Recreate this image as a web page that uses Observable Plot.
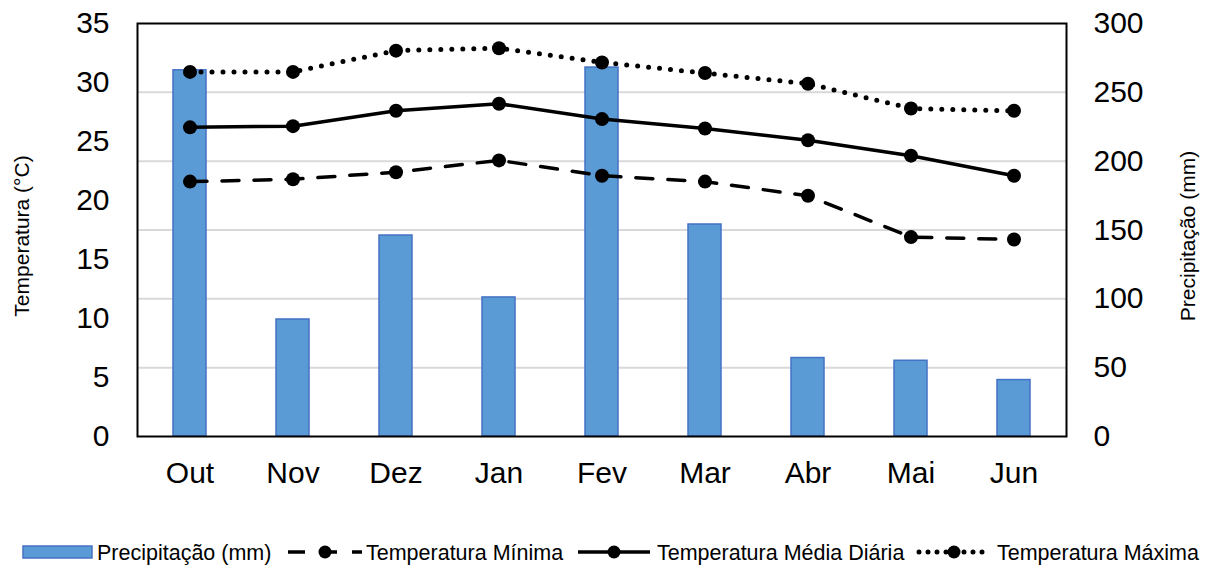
<!DOCTYPE html>
<html>
<head>
<meta charset="utf-8">
<script src="https://cdn.jsdelivr.net/npm/d3@7"></script>
<script src="https://cdn.jsdelivr.net/npm/@observablehq/plot@0.6"></script>
<style>
  html, body { margin: 0; padding: 0; background: white; }
  #chart svg { display: block; }
</style>
</head>
<body>
<div id="chart"></div>
<script>
// ---- data ----
const months = ["Out", "Nov", "Dez", "Jan", "Fev", "Mar", "Abr", "Mai", "Jun"];
const precip = [266, 85, 146, 101, 268, 154, 57, 55, 41];          // mm
const tMin   = [21.6, 21.8, 22.4, 23.4, 22.1, 21.6, 20.4, 16.9, 16.7]; // °C
const tMean  = [26.2, 26.3, 27.6, 28.2, 26.9, 26.1, 25.1, 23.8, 22.1];
const tMax   = [30.9, 30.9, 32.7, 32.9, 31.7, 30.8, 29.9, 27.8, 27.6];
const tempTicks = [0, 5, 10, 15, 20, 25, 30, 35];
const precipTicks = [0, 50, 100, 150, 200, 250, 300];
const seriesNames = ["Precipitação (mm)", "Temperatura Mínima", "Temperatura Média Diária", "Temperatura Máxima"];

const TMAX = 35, PMAX = 300;
const toT = mm => mm * TMAX / PMAX;

const bars = months.map((m, i) => ({month: m, mm: precip[i]}));
const rows = (arr) => months.map((m, i) => ({month: m, t: arr[i]}));

const font = "'Liberation Sans', Arial, Helvetica, sans-serif";
const W = 1211, H = 500;

const plot = Plot.plot({
  width: W,
  height: H,
  marginLeft: 137,
  marginRight: 145,
  marginTop: 23,
  marginBottom: 64,
  style: {fontFamily: font, fontSize: "30px", color: "black", background: "white"},
  x: {type: "band", domain: months, padding: 0, axis: null},
  y: {domain: [0, TMAX], axis: null},
  marks: [
    Plot.ruleY(precipTicks.slice(1, -1).map(toT), {stroke: "#d9d9d9", strokeWidth: 2}),
    Plot.barY(bars, {x: "month", y: d => toT(d.mm), fill: "#5b9bd5", stroke: "#4472c4", strokeWidth: 1.5, insetLeft: 35, insetRight: 35}),
    Plot.line(rows(tMin), {x: "month", y: "t", stroke: "black", strokeWidth: 3.5, strokeDasharray: "17,15"}),
    Plot.line(rows(tMean), {x: "month", y: "t", stroke: "black", strokeWidth: 3.5}),
    Plot.line(rows(tMax), {x: "month", y: "t", stroke: "black", strokeWidth: 5, strokeDasharray: "0,11", strokeLinecap: "round"}),
    Plot.dot(rows(tMin), {x: "month", y: "t", r: 7, fill: "black"}),
    Plot.dot(rows(tMean), {x: "month", y: "t", r: 7, fill: "black"}),
    Plot.dot(rows(tMax), {x: "month", y: "t", r: 7, fill: "black"}),
    Plot.frame({stroke: "black", strokeWidth: 2}),
    Plot.axisX({tickSize: 0, tickPadding: 25, fontSize: 30, label: null}),
    Plot.axisY({anchor: "left", ticks: tempTicks, tickSize: 0, tickPadding: 28, fontSize: 30, label: null}),
    Plot.axisY({anchor: "right", ticks: precipTicks.map(toT), tickFormat: d => String(Math.round(d * PMAX / TMAX)), tickSize: 0, tickPadding: 27, fontSize: 30, label: null}),
    Plot.text(["Temperatura (°C)"], {frameAnchor: "left", textAnchor: "middle", dx: -115, dy: 6, rotate: -90, fontSize: 21, fill: "black"}),
    Plot.text(["Precipitação (mm)"], {frameAnchor: "right", textAnchor: "middle", dx: 122, dy: 6, rotate: -90, fontSize: 21, fill: "black"})
  ]
});
document.getElementById("chart").appendChild(plot);

// ---- legend below the plot ----
const LH = 65, cy = 52;
const leg = d3.select("#chart").append("svg")
  .attr("width", W).attr("height", LH)
  .style("font-family", font).style("font-size", "21.5px");

// precipitation swatch
leg.append("rect").attr("x", 23).attr("y", cy - 6).attr("width", 69).attr("height", 12)
  .attr("fill", "#5b9bd5").attr("stroke", "#4472c4").attr("stroke-width", 1.5);
leg.append("text").attr("x", 97).attr("y", cy).attr("dy", "0.35em").text(seriesNames[0]);

function lineSym(x0, x1, dash, width, cap) {
  const l = leg.append("line").attr("x1", x0).attr("x2", x1).attr("y1", cy).attr("y2", cy)
    .attr("stroke", "black").attr("stroke-width", width);
  if (dash) l.attr("stroke-dasharray", dash);
  if (cap) l.attr("stroke-linecap", cap);
  leg.append("circle").attr("cx", (x0 + x1) / 2).attr("cy", cy).attr("r", 6.5).attr("fill", "black");
}
lineSym(288, 362, "17,15", 3.5);
leg.append("text").attr("x", 366).attr("y", cy).attr("dy", "0.35em").text(seriesNames[1]);
lineSym(578, 650, null, 3.5);
leg.append("text").attr("x", 657).attr("y", cy).attr("dy", "0.35em").text(seriesNames[2]);
lineSym(919, 989, "0,9", 5, "round");
leg.append("text").attr("x", 997).attr("y", cy).attr("dy", "0.35em").text(seriesNames[3]);
</script>
</body>
</html>
